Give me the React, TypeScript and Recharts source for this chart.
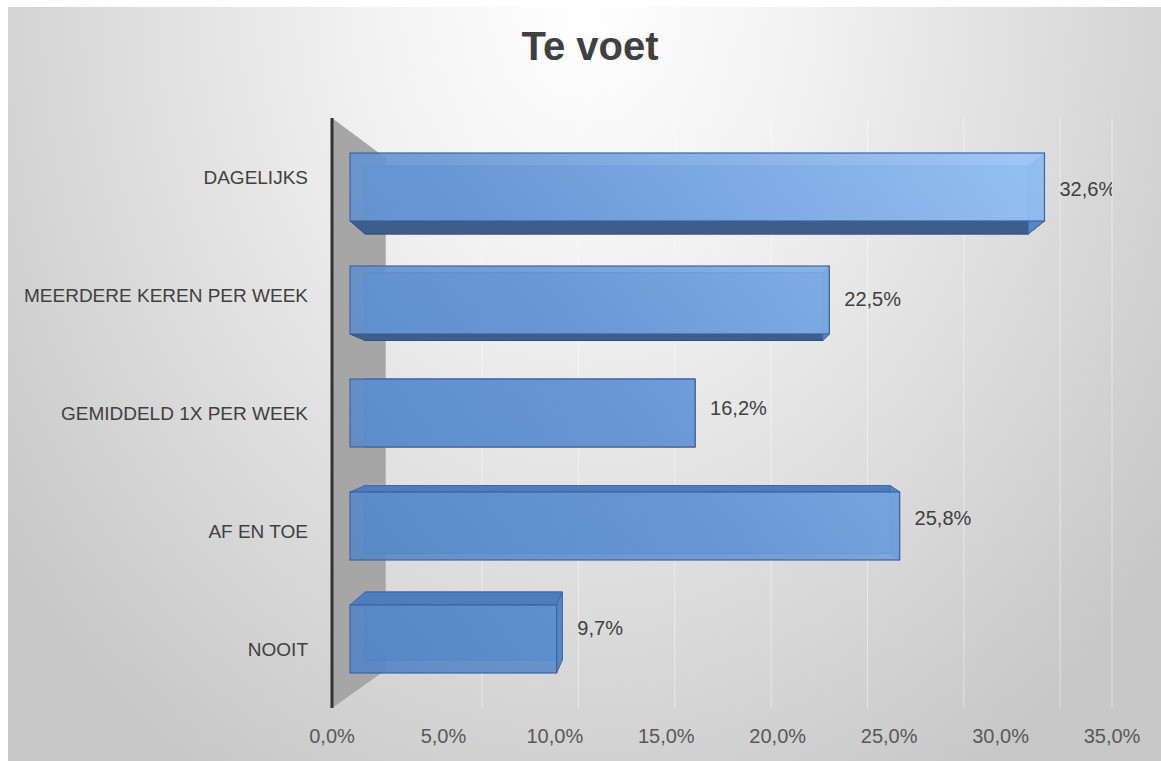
import React from "react";
import {
  BarChart,
  Bar,
  XAxis,
  YAxis,
  CartesianGrid,
  ReferenceArea,
} from "recharts";

const categories = [
  "DAGELIJKS",
  "MEERDERE KEREN PER WEEK",
  "GEMIDDELD 1X PER WEEK",
  "AF EN TOE",
  "NOOIT",
];
const values = [32.6, 22.5, 16.2, 25.8, 9.7];
const xTicks = [0, 5, 10, 15, 20, 25, 30, 35];
const backTicks = [5, 10, 15, 20, 25, 30, 35];
const title = "Te voet";

const data = categories.map((name, i) => ({ name, value: values[i] }));

const fmt = (v: number) => v.toFixed(1).replace(".", ",") + "%";

const FONT = "'Liberation Sans', Arial, sans-serif";

const Bar3D = (props: any) => {
  const { x, y, width, height, index, value } = props;
  const mid = (categories.length - 1) / 2;
  const k = mid - index;
  const fx = x;
  const fy = y + k * 5;
  const fw = width;
  const fh = height;
  const bx = x + 15;
  const by = fy + k * 6.5;
  const bw = width * 0.955;
  const bh = fh;
  const rightMost = Math.max(fx + fw, bx + bw);
  const top = Math.min(fy, by);
  const bottom = Math.max(fy + fh, by + bh);
  return (
    <g>
      <rect x={bx} y={by} width={bw} height={bh} fill="#72a2e0" stroke="#3d6aa8" strokeWidth={1} />
      {k > 0 && (
        <polygon
          points={`${fx},${fy + fh} ${fx + fw},${fy + fh} ${bx + bw},${by + bh} ${bx},${by + bh}`}
          fill="#3d5d8a"
          stroke="#34507a"
          strokeWidth={1}
        />
      )}
      {k < 0 && (
        <polygon
          points={`${fx},${fy} ${fx + fw},${fy} ${bx + bw},${by} ${bx},${by}`}
          fill="#4f7dbb"
          stroke="#3d6aa8"
          strokeWidth={1}
        />
      )}
      <polygon
        points={`${fx + fw},${fy} ${bx + bw},${by} ${bx + bw},${by + bh} ${fx + fw},${fy + fh}`}
        fill="#5586c6"
        stroke="#3d6aa8"
        strokeWidth={1}
      />
      <rect
        x={fx}
        y={fy}
        width={fw}
        height={fh}
        fill="url(#frontGrad)"
        fillOpacity={0.9}
        stroke="#3c65a0"
        strokeWidth={1.2}
      />
      <text
        x={rightMost + 15}
        y={(top + bottom) / 2 - 3}
        dominantBaseline="middle"
        fill="#404040"
        fontSize={20}
        fontFamily={FONT}
      >
        {fmt(value)}
      </text>
    </g>
  );
};

const Wall = (props: any) => {
  const { x, y, width, height } = props;
  return (
    <polygon
      points={`${x},${y} ${x + width},${y + 40} ${x + width},${y + height - 38} ${x},${y + height}`}
      fill="#a6a6a6"
    />
  );
};

export default function App() {
  return (
    <div
      style={{
        position: "absolute",
        left: 0,
        top: 0,
        width: 1161,
        height: 761,
        background: "#ffffff",
        overflow: "hidden",
      }}
    >
      <div
        style={{
          position: "absolute",
          left: 8,
          top: 7,
          width: 1153,
          height: 754,
          background:
            "radial-gradient(ellipse 720px 900px at 50% 0%, #ffffff 0%, #f2f2f2 30%, #c8c8c8 100%)",
        }}
      />
      <div
        style={{
          position: "absolute",
          left: 0,
          top: 22,
          width: 1180,
          textAlign: "center",
          fontFamily: FONT,
          fontWeight: "bold",
          fontSize: 40,
          color: "#404040",
          lineHeight: "48px",
        }}
      >
        {title}
      </div>
      <div style={{ position: "absolute", left: 0, top: 0 }}>
        <BarChart
          width={1161}
          height={761}
          data={data}
          layout="vertical"
          margin={{ top: 118, right: 49, bottom: 13, left: 32 }}
          barCategoryGap={0}
        >
          <defs>
            <linearGradient id="frontGrad" gradientUnits="userSpaceOnUse" x1="350" y1="700" x2="1050" y2="150">
              <stop offset="0%" stopColor="#5382c1" />
              <stop offset="45%" stopColor="#6796d3" />
              <stop offset="100%" stopColor="#9ac5f7" />
            </linearGradient>
          </defs>
          <XAxis
            xAxisId="front"
            type="number"
            domain={[0, 35]}
            ticks={xTicks}
            allowDataOverflow
            tickFormatter={fmt}
            axisLine={false}
            tickLine={false}
            tickMargin={15}
            height={40}
            tick={{ fill: "#595959", fontSize: 20, fontFamily: FONT }}
          />
          <XAxis
            xAxisId="bars"
            type="number"
            domain={[-0.845, 35.77]}
            allowDataOverflow
            height={0}
            hide
          />
          <XAxis
            xAxisId="back"
            type="number"
            domain={[-2.787, 37.69]}
            ticks={backTicks}
            allowDataOverflow
            height={0}
            hide
          />
          <YAxis
            type="category"
            dataKey="name"
            width={300}
            tickLine={false}
            tickMargin={18}
            axisLine={{ stroke: "#333333", strokeWidth: 3 }}
            tick={{ fill: "#404040", fontSize: 19, fontFamily: FONT }}
          />
          <CartesianGrid
            xAxisId="back"
            horizontal={false}
            vertical
            stroke="#ffffff"
            strokeOpacity={0.45}
          />
          <ReferenceArea
            xAxisId="back"
            x1={-2.787}
            x2={0}
            shape={<Wall />}
            ifOverflow="visible"
          />
          <Bar
            xAxisId="bars"
            dataKey="value"
            barSize={68}
            shape={<Bar3D />}
            isAnimationActive={false}
          />
        </BarChart>
      </div>
    </div>
  );
}
